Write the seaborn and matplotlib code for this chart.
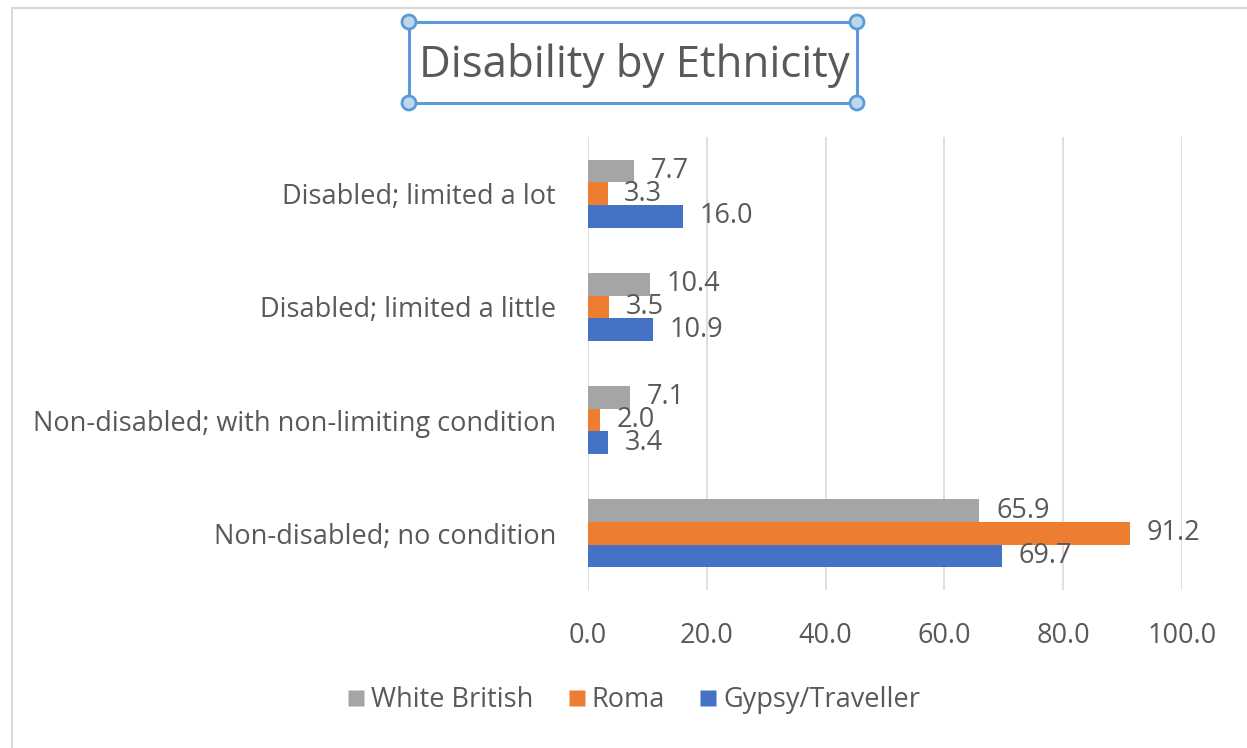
import matplotlib
matplotlib.use("Agg")
import matplotlib.pyplot as plt
from matplotlib.patches import Rectangle, Circle
from matplotlib.lines import Line2D
import pandas as pd
import seaborn as sns

categories = [
    "Disabled; limited a lot",
    "Disabled; limited a little",
    "Non-disabled; with non-limiting condition",
    "Non-disabled; no condition",
]
groups = ["White British", "Roma", "Gypsy/Traveller"]
white_british = [7.7, 10.4, 7.1, 65.9]
roma = [3.3, 3.5, 2.0, 91.2]
gypsy_traveller = [16.0, 10.9, 3.4, 69.7]
x_ticks = [0, 20, 40, 60, 80, 100]

colors = {"White British": "#A5A5A5", "Roma": "#ED7D31", "Gypsy/Traveller": "#4472C4"}
text_color = "#595959"
grid_color = "#D9D9D9"
fs = 19.5

df = pd.DataFrame({
    "category": categories * 3,
    "group": sum([[g] * len(categories) for g in groups], []),
    "value": white_british + roma + gypsy_traveller,
})

sns.set_theme(style="white")
plt.rcParams["font.family"] = ["Open Sans", "DejaVu Sans"]

fig = plt.figure(figsize=(12.47, 7.48), dpi=100)
ax = fig.add_axes([588 / 1247, 1 - 590 / 748, (1182 - 588) / 1247, (590 - 137) / 748])

sns.barplot(data=df, y="category", x="value", hue="group", order=categories,
            hue_order=groups, palette=colors, orient="h", width=0.6,
            saturation=1, ax=ax, legend=False, edgecolor="none")

for cont in ax.containers:
    ax.bar_label(cont, fmt="%.1f", padding=12, fontsize=fs, color=text_color)

ax.set_xlim(0, 100)
ax.set_ylim(3.5, -0.5)
ax.set_xticks(x_ticks)
ax.set_xticklabels([f"{t:.1f}" for t in x_ticks])
ax.set_xlabel("")
ax.set_ylabel("")
ax.xaxis.grid(True, color=grid_color, linewidth=1.2)
ax.set_axisbelow(True)
for s in ax.spines.values():
    s.set_visible(False)
ax.tick_params(axis="both", length=0, labelsize=fs, labelcolor=text_color)
ax.tick_params(axis="x", pad=23)
ax.tick_params(axis="y", pad=23)

# outer chart-area border
fig.add_artist(Line2D([12 / 1247, 1.0], [1 - 8 / 748, 1 - 8 / 748], color=grid_color, lw=1.5))
fig.add_artist(Line2D([12 / 1247, 12 / 1247], [0, 1 - 8 / 748], color=grid_color, lw=1.5))

# title with selection frame
fig.text(634 / 1247, 1 - 66 / 748, "Disability by Ethnicity", ha="center", va="center",
         fontsize=31.5, color=text_color)
x0, x1 = 409 / 1247, 857 / 1247
y0, y1 = 1 - 103 / 748, 1 - 22 / 748
fig.add_artist(Rectangle((x0, y0), x1 - x0, y1 - y0, transform=fig.transFigure,
                         fill=False, edgecolor="#5B9BD5", lw=2.2))
for cx, cy in [(x0, y0), (x0, y1), (x1, y0), (x1, y1)]:
    fig.add_artist(Circle((cx * 1247, cy * 748), 7, transform=None,
                          facecolor="#BDD7EE", edgecolor="#5B9BD5", lw=2))

handles = [Line2D([], [], marker="s", linestyle="none", markersize=11,
                  markerfacecolor=colors[g], markeredgecolor="none") for g in groups]
fig.legend(handles, groups, loc="center", bbox_to_anchor=(634 / 1247, 1 - 700 / 748),
           ncol=3, frameon=False, fontsize=fs, labelcolor=text_color,
           handlelength=0.6, handletextpad=0.25, columnspacing=1.3)

fig.savefig("out.png", dpi=100, facecolor="white")
